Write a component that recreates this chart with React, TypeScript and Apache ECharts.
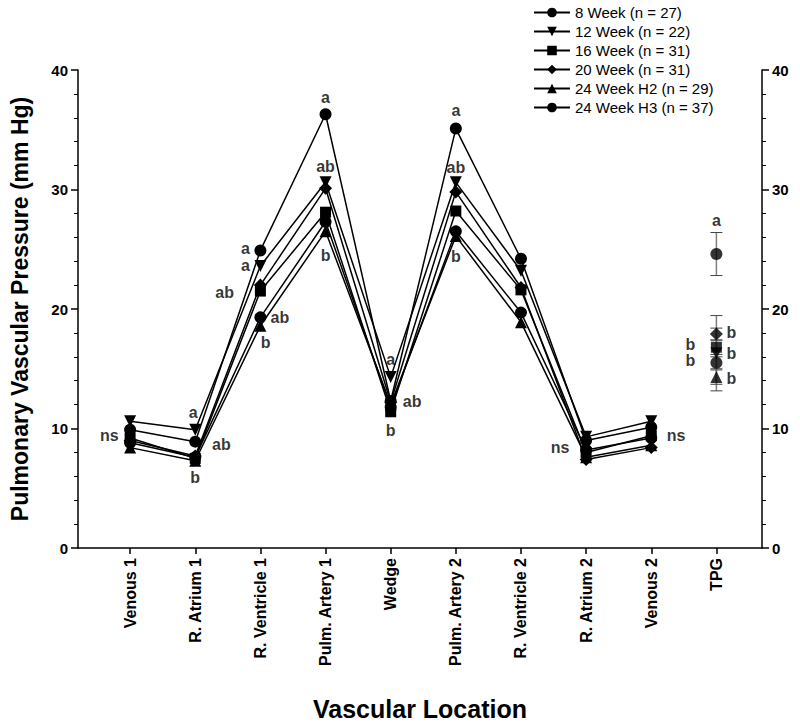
import React, { useEffect, useRef } from "react";
import * as echarts from "echarts";

const categories = ["Venous 1", "R. Atrium 1", "R. Ventricle 1", "Pulm. Artery 1", "Wedge", "Pulm. Artery 2", "R. Ventricle 2", "R. Atrium 2", "Venous 2", "TPG"];
const seriesNames = ["8 Week (n = 27)", "12 Week (n = 22)", "16 Week (n = 31)", "20 Week (n = 31)", "24 Week H2 (n = 29)", "24 Week H3 (n = 37)"];
const week8 = [9.9, 8.9, 24.9, 36.3, 12.3, 35.1, 24.2, 9.0, 10.1];
const week12 = [10.6, 9.9, 23.6, 30.6, 14.3, 30.6, 23.2, 9.3, 10.6];
const week16 = [9.2, 7.5, 21.5, 28.1, 11.4, 28.2, 21.6, 8.0, 9.4];
const week20 = [9.0, 7.7, 22.0, 30.1, 12.2, 29.8, 21.8, 7.4, 8.4];
const week24H2 = [8.4, 7.3, 18.6, 26.5, 12.0, 26.1, 18.9, 7.6, 8.6];
const week24H3 = [8.8, 7.6, 19.3, 27.3, 11.8, 26.5, 19.7, 8.2, 9.2];
const tpgMean = [24.6, 16.3, 16.8, 17.9, 14.3, 15.5];
const tpgErr = [1.8, 3.15, 0.6, 0.5, 0.6, 0.5];
// [x position (category number), y value, text]
const annotations: [number, number, string][] = [
  [0.68, 9.4, "ns"],
  [1.97, 11.3, "a"], [2.4, 8.7, "ab"], [2.0, 5.9, "b"],
  [2.77, 25.1, "a"], [2.77, 23.6, "a"], [2.45, 21.4, "ab"], [3.3, 19.3, "ab"], [3.08, 17.2, "b"],
  [4, 37.7, "a"], [4, 31.9, "ab"], [4, 24.5, "b"],
  [5, 15.8, "a"], [5.33, 12.3, "ab"], [5, 9.8, "b"],
  [6, 36.6, "a"], [6, 31.8, "ab"], [6, 24.4, "b"],
  [7.6, 8.4, "ns"], [9.38, 9.4, "ns"],
  [10, 27.4, "a"], [10.23, 18.0, "b"], [9.6, 17.05, "b"], [10.23, 16.3, "b"], [9.6, 15.7, "b"], [10.23, 14.2, "b"],
];

const allSeries = [week8, week12, week16, week20, week24H2, week24H3];
const symbols = ["circle", "triangle", "rect", "diamond", "triangle", "circle"];
const rotations = [0, 180, 0, 0, 0, 0];
const sizes = [12, 12, 11, 13, 12, 12];

export default function App() {
  const ref = useRef<HTMLDivElement>(null);
  useEffect(() => {
    document.body.style.margin = "0";
    const chart = echarts.init(ref.current!, null, { renderer: "svg" });
    const font = "Liberation Sans, Arial, sans-serif";
    const ticks = categories.map((_, i) => i + 1);
    const series: any[] = [];
    series.push({
      type: "custom",
      name: "errbars",
      silent: true,
      z: 1,
      data: tpgMean.map((m, i) => [10, m - tpgErr[i], m + tpgErr[i]]),
      renderItem: (params: any, api: any) => {
        const lo = api.coord([api.value(0), api.value(1)]);
        const hi = api.coord([api.value(0), api.value(2)]);
        const w = 6;
        return {
          type: "group",
          children: [
            { type: "line", shape: { x1: lo[0], y1: lo[1], x2: hi[0], y2: hi[1] }, style: { stroke: "#7f7f7f", lineWidth: 1.5 } },
            { type: "line", shape: { x1: lo[0] - w, y1: lo[1], x2: lo[0] + w, y2: lo[1] }, style: { stroke: "#444", lineWidth: 1 } },
            { type: "line", shape: { x1: hi[0] - w, y1: hi[1], x2: hi[0] + w, y2: hi[1] }, style: { stroke: "#444", lineWidth: 1 } },
          ],
        };
      },
    });
    allSeries.forEach((vals, k) => {
      series.push({
        type: "line",
        name: seriesNames[k],
        data: vals.map((v, i) => [i + 1, v]),
        symbol: symbols[k],
        symbolRotate: rotations[k],
        symbolSize: sizes[k],
        showSymbol: true,
        lineStyle: { color: "#000", width: 1.5 },
        itemStyle: { color: "#000" },
        z: 3,
      });
      series.push({
        type: "scatter",
        name: seriesNames[k],
        data: [[10, tpgMean[k]]],
        symbol: symbols[k],
        symbolRotate: rotations[k],
        symbolSize: sizes[k],
        itemStyle: { color: "#000" },
        z: 3,
      });
    });
    series.push({
      type: "scatter",
      name: "labels",
      data: annotations.map((a) => [a[0], a[1], a[2]]),
      symbolSize: 0,
      z: 4,
      label: {
        show: true,
        position: "inside",
        formatter: (p: any) => p.data[2],
        fontFamily: font,
        fontWeight: "bold",
        fontSize: 16,
        color: "#000",
      },
    });
    chart.setOption({
      animation: false,
      backgroundColor: "#fff",
      textStyle: { fontFamily: font },
      grid: { left: 75, right: 38, top: 70, bottom: 177 },
      legend: {
        data: seriesNames,
        orient: "vertical",
        left: 528,
        top: 0,
        itemWidth: 36,
        itemHeight: 12,
        itemGap: 4,
        textStyle: { fontFamily: font, fontSize: 15, color: "#000" },
      },
      xAxis: {
        type: "value",
        min: 0.2,
        max: 10.7,
        name: "Vascular Location",
        nameLocation: "middle",
        nameGap: 148,
        nameTextStyle: { fontFamily: font, fontWeight: "bold", fontSize: 25, color: "#000" },
        axisLine: { lineStyle: { color: "#000", width: 1.5 } },
        axisTick: { show: true, customValues: ticks, length: 6, lineStyle: { color: "#000", width: 1.5 } },
        axisLabel: {
          customValues: ticks,
          rotate: 90,
          formatter: (v: number) => categories[Math.round(v) - 1] || "",
          fontFamily: font,
          fontWeight: "bold",
          fontSize: 16,
          color: "#000",
          margin: 10,
        },
        splitLine: { show: false },
      },
      yAxis: [
        {
          type: "value",
          min: 0,
          max: 40,
          interval: 10,
          position: "left",
          name: "Pulmonary Vascular Pressure (mm Hg)",
          nameLocation: "middle",
          nameGap: 47,
          nameTextStyle: { fontFamily: font, fontWeight: "bold", fontSize: 23, color: "#000" },
          axisLine: { show: true, lineStyle: { color: "#000", width: 1.5 } },
          axisTick: { show: true, length: 7, lineStyle: { color: "#000", width: 1.5 } },
          minorTick: { show: true, splitNumber: 5, length: 4, lineStyle: { color: "#000", width: 1 } },
          axisLabel: { fontFamily: font, fontWeight: "bold", fontSize: 15, color: "#000", margin: 10 },
          splitLine: { show: false },
        },
        {
          type: "value",
          min: 0,
          max: 40,
          interval: 10,
          position: "right",
          axisLine: { show: true, lineStyle: { color: "#000", width: 1.5 } },
          axisTick: { show: true, length: 7, lineStyle: { color: "#000", width: 1.5 } },
          minorTick: { show: true, splitNumber: 5, length: 4, lineStyle: { color: "#000", width: 1 } },
          axisLabel: { fontFamily: font, fontWeight: "bold", fontSize: 15, color: "#000", margin: 10 },
          splitLine: { show: false },
        },
      ],
      series,
    });
    return () => chart.dispose();
  }, []);
  return <div ref={ref} style={{ width: 800, height: 726 }} />;
}
